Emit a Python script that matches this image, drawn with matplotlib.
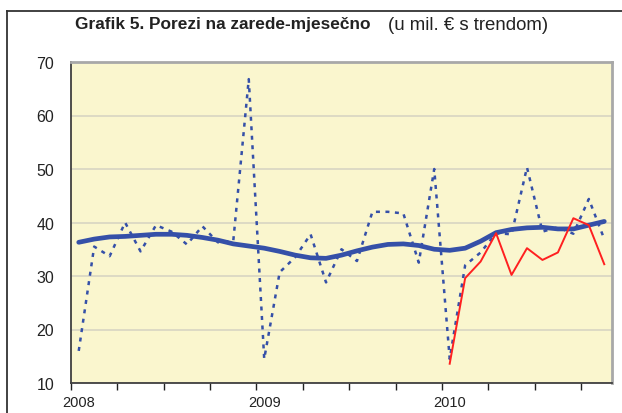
import matplotlib
matplotlib.use("Agg")
import matplotlib.pyplot as plt
from matplotlib.lines import Line2D

# monthly tax on wages, Jan 2008 - Nov 2010 (mil. EUR)
months = list(range(35))
monthly = [16.0, 35.5, 33.7, 40.0, 34.6, 39.5, 38.3, 35.9, 39.3, 36.3,
           36.6, 66.8, 14.5, 30.7, 33.5, 37.8, 28.8, 35.0, 32.8, 42.0,
           42.0, 41.7, 32.5, 50.0, 14.5, 32.0, 34.4, 38.0, 37.8, 50.3,
           38.3, 39.1, 37.9, 44.4, 36.9]
trend = [36.3, 36.9, 37.3, 37.4, 37.6, 37.8, 37.8, 37.6, 37.2, 36.7,
         36.0, 35.6, 35.2, 34.6, 33.9, 33.4, 33.3, 33.9, 34.7, 35.4,
         35.9, 36.0, 35.7, 35.0, 34.8, 35.2, 36.5, 38.1, 38.7, 39.0,
         39.1, 38.8, 38.8, 39.5, 40.2]
red_months = list(range(24, 35))
red = [13.6, 29.6, 32.7, 38.0, 30.2, 35.2, 33.0, 34.4, 40.8, 39.5, 32.2]
year_labels = ["2008", "2009", "2010"]

W, H = 622, 414
fig = plt.figure(figsize=(W / 100, H / 100), dpi=100)
plt.rcParams["font.family"] = ["Liberation Sans", "DejaVu Sans"]

# outer frame (top and left visible)
fig.add_artist(Line2D([7 / W, 1], [1 - 12 / H, 1 - 12 / H], color="#333333", lw=1.3))
fig.add_artist(Line2D([7 / W, 7 / W], [0, 1 - 12 / H], color="#333333", lw=1.3))

ax = fig.add_axes([71 / W, 30 / H, 541 / W, 321 / H])
ax.set_facecolor("#FAF6CE")

x = [m + 0.5 for m in months]
ax.plot(x, monthly, color="#3550A8", lw=1.8, linestyle=(0, (1.6, 2.2)))
ax.plot(x, trend, color="#3550A8", lw=3.4, solid_capstyle="round")
ax.plot([m + 0.5 for m in red_months], red, color="#FF2020", lw=1.4)

ax.set_xlim(0, 35)
ax.set_ylim(10, 70)
ax.set_yticks(range(10, 71, 10))
ax.set_xticks(range(0, 35, 3))
ax.set_xticklabels([])
ax.set_xticks([0.5, 12.5, 24.5], minor=True)
ax.set_xticklabels(year_labels, minor=True)
ax.tick_params(axis="x", which="major", length=5, width=1, color="#222222", direction="out")
ax.tick_params(axis="x", which="minor", length=0, pad=9, labelsize=10.5)
ax.tick_params(axis="y", length=0, pad=12, labelsize=11.5)
for lab in ax.get_yticklabels() + ax.get_xticklabels(minor=True):
    lab.set_color("#222222")

ax.grid(axis="y", color="#D8D5C2", lw=1.2)
ax.set_axisbelow(True)
for s in ["top", "right"]:
    ax.spines[s].set_color("#A8A8A8")
    ax.spines[s].set_linewidth(2)
for s in ["left", "bottom"]:
    ax.spines[s].set_color("#404040")
    ax.spines[s].set_linewidth(1.3)

# title in two parts
t1 = fig.text(75 / W, 1 - 25 / H, "Grafik 5. Porezi na zarede-mjesečno",
              fontsize=12.4, fontweight="bold", va="center", ha="left", color="#222222")
fig.canvas.draw()
bb = t1.get_window_extent()
fig.text((bb.x1 + 17) / W, 1 - 25 / H, "(u mil. € s trendom)",
         fontsize=13.4, va="center", ha="left", color="#222222")

fig.savefig("out.png", dpi=100)
